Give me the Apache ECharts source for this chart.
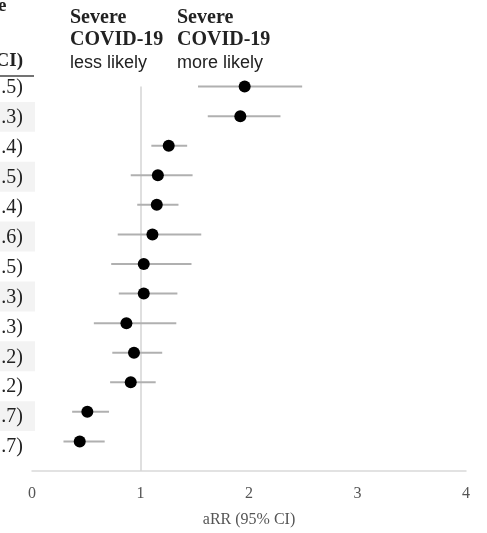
<!DOCTYPE html>
<html>
<head>
<meta charset="utf-8">
<script src="https://cdn.jsdelivr.net/npm/echarts@6/dist/echarts.min.js"></script>
<style>
  html, body { margin: 0; padding: 0; background: #fff; }
  #chart { width: 487px; height: 533px; }
</style>
</head>
<body>
<div id="chart"></div>
<script>
// visible right-hand ends of the estimate column (cut off in the source)
const rowLabels = ['.5)', '.3)', '.4)', '.5)', '.4)', '.6)', '.5)', '.3)', '.3)', '.2)', '.2)', '.7)', '.7)']
const estimates = [1.96, 1.92, 1.26, 1.16, 1.15, 1.11, 1.03, 1.03, 0.87, 0.94, 0.91, 0.51, 0.44]
const lowerCI = [1.53, 1.62, 1.10, 0.91, 0.97, 0.79, 0.73, 0.80, 0.57, 0.74, 0.72, 0.37, 0.29]
const upperCI = [2.49, 2.29, 1.43, 1.48, 1.35, 1.56, 1.47, 1.34, 1.33, 1.20, 1.14, 0.71, 0.67]
const xTicks = ['0', '1', '2', '3', '4']

const serif = "'Liberation Serif', 'Times New Roman', serif"
const sans = "'Liberation Sans', Arial, sans-serif"

const rows = rowLabels.map((_, i) => i + 1)
const ciData = rows.map((r, i) => [lowerCI[i], upperCI[i], r])
const pointData = rows.map((r, i) => [estimates[i], r])
const labelData = rows.map((r, i) => [0, r, rowLabels[i]])

const chart = echarts.init(document.getElementById('chart'))

const option = {
  animation: false,
  grid: [
    { left: 32, right: 21, top: 57, bottom: 57 },
    { left: 0, width: 35, top: 57, bottom: 57 }
  ],
  xAxis: [
    {
      gridIndex: 0,
      type: 'value',
      position: 'bottom',
      min: 0,
      max: 4,
      interval: 1,
      splitLine: { show: false },
      axisTick: { show: false },
      axisLine: { show: true, onZero: false, lineStyle: { color: '#d9d9d9', width: 1.5 } },
      axisLabel: {
        color: '#555',
        fontFamily: serif,
        fontSize: 16,
        margin: 15,
        formatter: (v) => xTicks[v]
      },
      name: 'aRR (95% CI)',
      nameLocation: 'middle',
      nameGap: 41,
      nameTextStyle: { color: '#555', fontFamily: serif, fontSize: 16 }
    },
    { gridIndex: 1, type: 'value', min: 0, max: 1, show: false }
  ],
  yAxis: [
    { gridIndex: 0, type: 'value', min: 0, max: 14, inverse: true, show: false },
    { gridIndex: 1, type: 'value', min: 0, max: 14, inverse: true, show: false }
  ],
  graphic: [
    { type: 'text', left: -2, top: -3, style: { text: 'e', font: 'bold 19px ' + serif, fill: '#222' } },
    { type: 'text', right: 464, top: 52, style: { text: 'CI)', font: 'bold 19px ' + serif, fill: '#222' } },
    { type: 'line', shape: { x1: 0, y1: 76, x2: 34, y2: 76 }, style: { stroke: '#444', lineWidth: 1.5 } },
    { type: 'text', left: 70, top: 8, style: { text: 'Severe', font: 'bold 20px ' + serif, fill: '#222' } },
    { type: 'text', left: 70, top: 30, style: { text: 'COVID-19', font: 'bold 20px ' + serif, fill: '#222' } },
    { type: 'text', left: 70, top: 54, style: { text: 'less likely', font: '18px ' + sans, fill: '#222' } },
    { type: 'text', left: 177, top: 8, style: { text: 'Severe', font: 'bold 20px ' + serif, fill: '#222' } },
    { type: 'text', left: 177, top: 30, style: { text: 'COVID-19', font: 'bold 20px ' + serif, fill: '#222' } },
    { type: 'text', left: 177, top: 54, style: { text: 'more likely', font: '18px ' + sans, fill: '#222' } }
  ],
  series: [
    {
      // row labels with alternating bands
      type: 'custom',
      xAxisIndex: 1,
      yAxisIndex: 1,
      data: labelData,
      renderItem (params, api) {
        const row = api.value(1)
        const p = api.coord([0, row])
        const h = api.size([0, 1])[1]
        const w = api.size([1, 0])[0]
        const children = []
        if (row % 2 === 0) {
          children.push({
            type: 'rect',
            shape: { x: p[0], y: p[1] - h / 2, width: w, height: h },
            style: { fill: '#f3f3f3' }
          })
        }
        children.push({
          type: 'text',
          x: p[0] + 23,
          y: p[1] + 1,
          style: {
            text: rowLabels[params.dataIndex],
            align: 'right',
            verticalAlign: 'middle',
            font: '20px ' + serif,
            fill: '#222'
          }
        })
        return { type: 'group', children }
      }
    },
    {
      // confidence intervals
      type: 'custom',
      xAxisIndex: 0,
      yAxisIndex: 0,
      data: ciData,
      encode: { x: [0, 1], y: 2 },
      renderItem (params, api) {
        const a = api.coord([api.value(0), api.value(2)])
        const b = api.coord([api.value(1), api.value(2)])
        return {
          type: 'line',
          shape: { x1: a[0], y1: a[1], x2: b[0], y2: b[1] },
          style: { stroke: '#b0b0b0', lineWidth: 2 }
        }
      },
      z: 2
    },
    {
      type: 'scatter',
      xAxisIndex: 0,
      yAxisIndex: 0,
      data: pointData,
      symbol: 'circle',
      symbolSize: 12,
      itemStyle: { color: '#000', opacity: 1 },
      z: 3,
      markLine: {
        silent: true,
        symbol: 'none',
        label: { show: false },
        lineStyle: { color: '#d4d4d4', width: 1.5, type: 'solid' },
        data: [[{ coord: [1, 1] }, { coord: [1, 14] }]],
        z: 1
      }
    }
  ]
}

chart.setOption(option)
</script>
</body>
</html>
